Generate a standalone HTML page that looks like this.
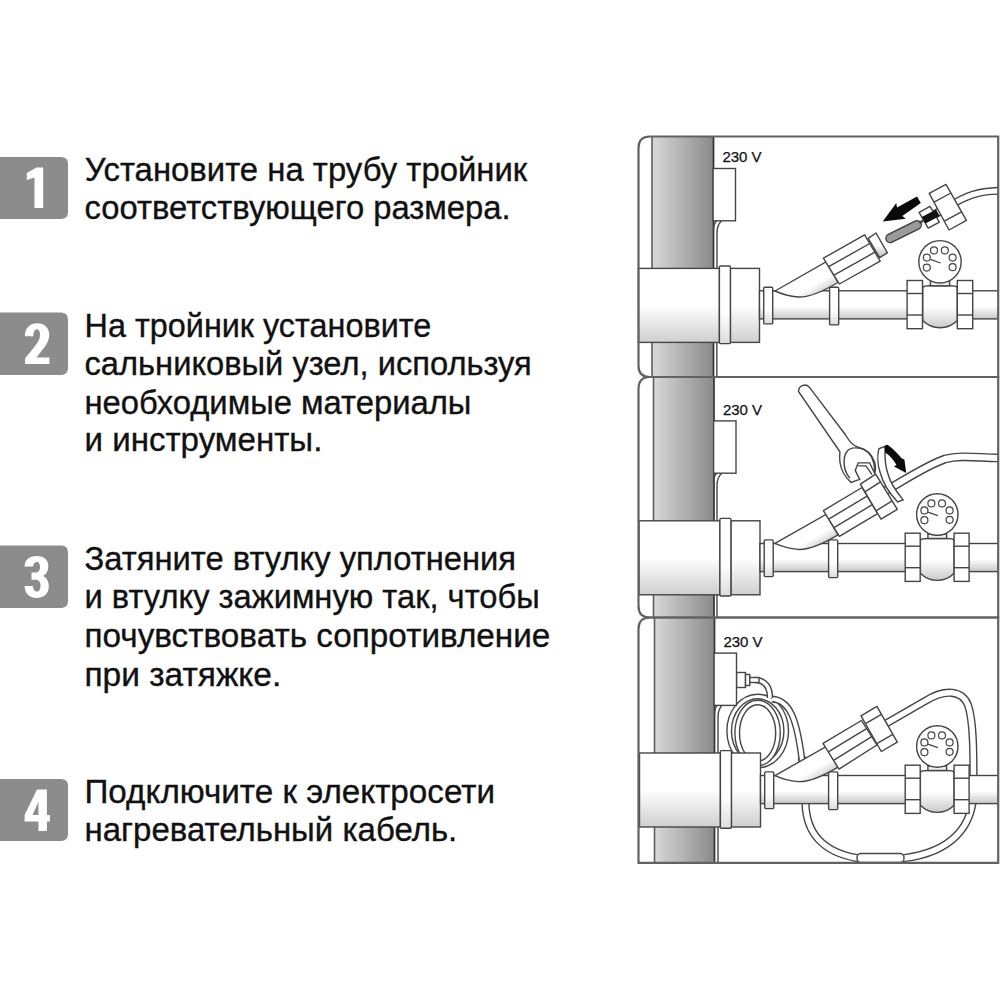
<!DOCTYPE html>
<html><head><meta charset="utf-8">
<style>
html,body{margin:0;padding:0;background:#fff;overflow:hidden;}
svg{display:block;}
.t text{font-family:"Liberation Sans",sans-serif;font-size:33px;fill:#111;stroke:#111;stroke-width:0.35px;}
.v{font-family:"Liberation Sans",sans-serif;font-size:15px;fill:#111;stroke:#111;stroke-width:0.25px;}
</style></head>
<body>
<svg width="1000" height="1000" viewBox="0 0 1000 1000">
<defs>
<clipPath id="dc"><rect x="600" y="100" width="398" height="800"/></clipPath>
<linearGradient id="vp" x1="0" y1="0" x2="1" y2="0"><stop offset="0" stop-color="#d8d8d8"/><stop offset="1" stop-color="#8a8a8a"/></linearGradient>
<linearGradient id="cg" x1="0" y1="0" x2="0" y2="1"><stop offset="0" stop-color="#fff"/><stop offset="0.5" stop-color="#fff"/><stop offset="1" stop-color="#cfcfcf"/></linearGradient>
<linearGradient id="rg" x1="0" y1="0" x2="0" y2="1"><stop offset="0" stop-color="#fff"/><stop offset="0.6" stop-color="#fff"/><stop offset="1" stop-color="#dcdcdc"/></linearGradient>
<linearGradient id="pg" x1="0" y1="0" x2="0" y2="1"><stop offset="0" stop-color="#fff"/><stop offset="0.55" stop-color="#fff"/><stop offset="1" stop-color="#c8c8c8"/></linearGradient>
<linearGradient id="vg" x1="0" y1="0" x2="0" y2="1"><stop offset="0" stop-color="#fff"/><stop offset="0.5" stop-color="#fff"/><stop offset="1" stop-color="#cacaca"/></linearGradient>
<linearGradient id="kg" x1="0" y1="0" x2="0" y2="1"><stop offset="0" stop-color="#fff"/><stop offset="0.5" stop-color="#fff"/><stop offset="1" stop-color="#bbb"/></linearGradient>
<linearGradient id="tg0" gradientUnits="userSpaceOnUse" x1="818" y1="266" x2="834" y2="293"><stop offset="0" stop-color="#fff"/><stop offset="0.45" stop-color="#fff"/><stop offset="1" stop-color="#b8b8b8"/></linearGradient><linearGradient id="tg1" gradientUnits="userSpaceOnUse" x1="818" y1="518.4" x2="834" y2="545.4"><stop offset="0" stop-color="#fff"/><stop offset="0.45" stop-color="#fff"/><stop offset="1" stop-color="#b8b8b8"/></linearGradient><linearGradient id="tg2" gradientUnits="userSpaceOnUse" x1="818" y1="750.6" x2="834" y2="777.6"><stop offset="0" stop-color="#fff"/><stop offset="0.45" stop-color="#fff"/><stop offset="1" stop-color="#b8b8b8"/></linearGradient>
</defs>
<g fill="#8c8c8c"><path d="M0 157H61Q68 157 68 164V212Q68 219 61 219H0Z"/><path d="M0 312.5H61Q68 312.5 68 319.5V368Q68 375 61 375H0Z"/><path d="M0 545.5H61Q68 545.5 68 552.5V601Q68 608 61 608H0Z"/><path d="M0 779H61Q68 779 68 786V834Q68 841 61 841H0Z"/></g>
<path fill="#fff" fill-rule="evenodd" d="M36.5 167.4H43.2V208.1H34.5V177.6L26.8 180V173ZM24.9 336.2C24.9 328 30 323.3 37.2 323.3C44.5 323.3 49.2 328 49.2 334.5C49.2 340.5 46.5 345 41.5 351L36.5 357.4H49.4V364H25V358.5L33.5 348C38 342.5 40 339 40 335C40 331.5 39 329.3 37 329.3C34.8 329.3 33.3 331.5 33.3 336.2ZM24.6 566.5C24.6 560 29.5 556 36.7 556C44 556 48.3 560 48.3 566C48.3 571 46 574.5 43 576C46.5 577.5 48.8 581 48.8 586.5C48.8 593.5 44 597.9 36.7 597.9C29 597.9 24.6 593 24.6 586H33C33 589.5 35 591.5 37 591.5C39.5 591.5 40.5 589 40.5 585.5C40.5 581.5 38.5 579.7 35 579.7H31.5V572.5H35C38.5 572.5 40 570.5 40 567C40 564 39 562 37 562C35 562 33.2 563.5 33.2 566.5ZM37 789.6H46.9V814.9H49.9V821.5H46.9V830.9H38.4V821.5H24.6V814.9ZM38.4 801.7V814.9H32.6Z"/>
<g class="t"><text x="84.8" y="180.8" transform="matrix(0.9964,0,0,1,0.31,0)">Установите на трубу тройник</text><text x="84.5" y="219.2" transform="matrix(0.9934,0,0,1,0.57,0)">соответствующего размера.</text><text x="84.5" y="337.1" transform="matrix(0.9819,0,0,1,1.56,0)">На тройник установите</text><text x="84.5" y="375.3" transform="matrix(0.9906,0,0,1,0.81,0)">сальниковый узел, используя</text><text x="84.5" y="413.6" transform="matrix(0.9935,0,0,1,0.56,0)">необходимые материалы</text><text x="84.5" y="451.4" transform="matrix(1.0030,0,0,1,-0.26,0)">и инструменты.</text><text x="84.5" y="569.6" transform="matrix(0.9923,0,0,1,0.66,0)">Затяните втулку уплотнения</text><text x="84.5" y="607.9" transform="matrix(0.9914,0,0,1,0.74,0)">и втулку зажимную так, чтобы</text><text x="84.5" y="647" transform="matrix(1.0094,0,0,1,-0.81,0)">почувствовать сопротивление</text><text x="84.5" y="685.6" transform="matrix(1.0149,0,0,1,-1.28,0)">при затяжке.</text><text x="84.5" y="803" transform="matrix(1.0069,0,0,1,-0.59,0)">Подключите к электросети</text><text x="84.5" y="841.5" transform="matrix(0.9995,0,0,1,0.04,0)">нагревательный кабель.</text></g>
<rect x="652" y="137" width="61.5" height="240" fill="url(#vp)"/>
<line x1="652" y1="137" x2="652" y2="377" stroke="#5e5e5e" stroke-width="1.6"/>
<line x1="713.5" y1="137" x2="713.5" y2="377" stroke="#333" stroke-width="1.7"/>
<rect x="653.5" y="377" width="60.5" height="240.5" fill="url(#vp)"/>
<line x1="653.5" y1="377" x2="653.5" y2="617.5" stroke="#5e5e5e" stroke-width="1.6"/>
<line x1="714" y1="377" x2="714" y2="617.5" stroke="#333" stroke-width="1.7"/>
<rect x="654.5" y="617.5" width="60.0" height="245.29999999999995" fill="url(#vp)"/>
<line x1="654.5" y1="617.5" x2="654.5" y2="862.8" stroke="#5e5e5e" stroke-width="1.6"/>
<line x1="714.5" y1="617.5" x2="714.5" y2="862.8" stroke="#333" stroke-width="1.7"/>
<g clip-path="url(#dc)"><path d="M721.5 221 Q717 225 717 233 V268.4" fill="none" stroke="#454545" stroke-width="1.4" /><path d="M716.5 221 Q713.5 224 713.5 230" fill="none" stroke="#454545" stroke-width="1.4" /><line x1="716.8" y1="342.4" x2="716.8" y2="377" stroke="#454545" stroke-width="1.4"/><path d="M950 206 C965 196 978 191 1000 190.8" fill="none" stroke="#454545" stroke-width="8" stroke-linecap="butt" stroke-linejoin="round"/><path d="M950 206 C965 196 978 191 1000 190.8" fill="none" stroke="#fff" stroke-width="5.2" stroke-linecap="butt" stroke-linejoin="round"/><path d="M928 218 L948 207" fill="none" stroke="#454545" stroke-width="8.4" stroke-linecap="butt" stroke-linejoin="round"/><path d="M928 218 L948 207" fill="none" stroke="#fff" stroke-width="5.6" stroke-linecap="butt" stroke-linejoin="round"/><polygon points="929.2,193.4 946,184.4 966.4,220.4 949,230" fill="#fff" stroke="#454545" stroke-width="1.4" stroke-linejoin="round"/><line x1="934" y1="202.2" x2="950.9" y2="193" stroke="#454545" stroke-width="1.4"/><line x1="944.2" y1="221.2" x2="961.5" y2="211.8" stroke="#454545" stroke-width="1.4"/><polygon points="919.1,212.4 930,206.4 939.4,222.2 928.2,228.1" fill="#fff" stroke="#454545" stroke-width="1.4" stroke-linejoin="round"/><polygon points="921.8,217.1 936,209.5 939.7,215.9 925.5,223.4" fill="#111"/><line x1="890.2" y1="238.3" x2="917" y2="225" stroke="#3c3c3c" stroke-width="10" stroke-linecap="round"/><line x1="890.2" y1="238.3" x2="917" y2="225" stroke="#9a9a9a" stroke-width="7.4" stroke-linecap="round"/><line x1="919.5" y1="223.2" x2="923" y2="220.6" stroke="#454545" stroke-width="2.5"/><polygon points="882.7,221.5 896.3,203 897,207.5 917,196.6 920.8,203 902.3,215.9 905.8,218.7" fill="#0a0a0a"/><polygon points="868.2,238.4 876,233 887.4,252.8 879.6,257.6" fill="url(#kg)" stroke="#454545" stroke-width="1.4" stroke-linejoin="round"/><text x="722.4" y="162.1" class="v">230 V</text><rect x="713.1" y="168.5" width="22.4" height="52.3" rx="0" fill="#fff" stroke="#454545" stroke-width="1.4" /><rect x="638.5" y="268.4" width="80.9" height="74" rx="0" fill="url(#cg)" stroke="#454545" stroke-width="1.4" /><rect x="730.4" y="268.4" width="29.1" height="74" rx="0" fill="url(#cg)" stroke="#454545" stroke-width="1.4" /><rect x="719.4" y="266" width="11" height="77.6" rx="1" fill="url(#rg)" stroke="#454545" stroke-width="1.4" /><rect x="759.5" y="290.8" width="250.5" height="28.1" rx="0" fill="url(#pg)" stroke="#454545" stroke-width="1.4" /><rect x="763.7" y="287.2" width="9" height="36.7" rx="1" fill="url(#rg)" stroke="#454545" stroke-width="1.4" /><rect x="829.6" y="287.2" width="9.1" height="37.7" rx="1" fill="url(#rg)" stroke="#454545" stroke-width="1.4" /><path d="M922.7 287.5 Q924 285.8 930 285.8 H950 Q956 285.8 957.3 287.5 V320.5 A24.4 24.4 0 0 1 922.7 320.5 Z" fill="url(#vg)" stroke="#454545" stroke-width="1.4" /><rect x="930.4" y="281.2" width="19.2" height="4.6" rx="0" fill="#eee" stroke="#454545" stroke-width="1.4" /><rect x="907.1" y="280.5" width="15.4" height="48.2" rx="0" fill="#fff" stroke="#454545" stroke-width="1.4" /><line x1="907.1" y1="293.5" x2="922.5" y2="293.5" stroke="#454545" stroke-width="1.4"/><line x1="907.1" y1="315" x2="922.5" y2="315" stroke="#454545" stroke-width="1.4"/><rect x="957.3" y="280.5" width="15.4" height="48.2" rx="0" fill="#fff" stroke="#454545" stroke-width="1.4" /><line x1="957.3" y1="293.5" x2="972.7" y2="293.5" stroke="#454545" stroke-width="1.4"/><line x1="957.3" y1="315" x2="972.7" y2="315" stroke="#454545" stroke-width="1.4"/><circle cx="940" cy="261.8" r="21.2" fill="#fff" stroke="#454545" stroke-width="1.4"/><circle cx="926.8" cy="257.6" r="3.5" fill="#fff" stroke="#454545" stroke-width="1.2"/><circle cx="934" cy="250.4" r="3.5" fill="#fff" stroke="#454545" stroke-width="1.2"/><circle cx="944.8" cy="250.4" r="3.5" fill="#fff" stroke="#454545" stroke-width="1.2"/><circle cx="952.6" cy="257.6" r="3.5" fill="#fff" stroke="#454545" stroke-width="1.2"/><circle cx="952.6" cy="267.2" r="3.5" fill="#fff" stroke="#454545" stroke-width="1.2"/><circle cx="926.8" cy="267.6" r="3.5" fill="#fff" stroke="#454545" stroke-width="1.2"/><line x1="930.4" y1="259.4" x2="940.6" y2="263" stroke="#454545" stroke-width="1.3"/><path d="M775 291 L826 262 L838 282.5 Q812 298 798 297 Q786 296 775 291 Z" fill="url(#tg0)" stroke="#454545" stroke-width="1.4" /><polygon points="823.4,258.2 864.6,234.8 880.2,261.2 839.4,284" fill="#fff" stroke="#454545" stroke-width="1.4" stroke-linejoin="round"/><line x1="828.7" y1="266.7" x2="869.7" y2="243.5" stroke="#454545" stroke-width="1.4"/><line x1="834" y1="275.2" x2="874.9" y2="252.2" stroke="#454545" stroke-width="1.4"/><text x="722.9" y="414.5" class="v">230 V</text><rect x="713.6" y="420.9" width="22.4" height="52.3" rx="0" fill="#fff" stroke="#454545" stroke-width="1.4" /><rect x="639" y="520.8" width="80.9" height="74" rx="0" fill="url(#cg)" stroke="#454545" stroke-width="1.4" /><rect x="730.9" y="520.8" width="29.1" height="74" rx="0" fill="url(#cg)" stroke="#454545" stroke-width="1.4" /><rect x="719.9" y="518.4" width="11" height="77.6" rx="1" fill="url(#rg)" stroke="#454545" stroke-width="1.4" /><rect x="760" y="543.5" width="250" height="28.1" rx="0" fill="url(#pg)" stroke="#454545" stroke-width="1.4" /><rect x="764.2" y="539.9" width="9" height="36.7" rx="1" fill="url(#rg)" stroke="#454545" stroke-width="1.4" /><rect x="828.6" y="539.9" width="9.1" height="37.7" rx="1" fill="url(#rg)" stroke="#454545" stroke-width="1.4" /><path d="M920.4 540.2 Q921.7 538.5 927.5 538.5 H947 Q952.9 538.5 954.1 540.2 V573.2 A23.8 24.4 0 0 1 920.4 573.2 Z" fill="url(#vg)" stroke="#454545" stroke-width="1.4" /><rect x="927.9" y="533.9" width="18.7" height="4.6" rx="0" fill="#eee" stroke="#454545" stroke-width="1.4" /><rect x="905.2" y="533.2" width="15" height="48.2" rx="0" fill="#fff" stroke="#454545" stroke-width="1.4" /><line x1="905.2" y1="546.2" x2="920.2" y2="546.2" stroke="#454545" stroke-width="1.4"/><line x1="905.2" y1="567.7" x2="920.2" y2="567.7" stroke="#454545" stroke-width="1.4"/><rect x="954.1" y="533.2" width="15" height="48.2" rx="0" fill="#fff" stroke="#454545" stroke-width="1.4" /><line x1="954.1" y1="546.2" x2="969.2" y2="546.2" stroke="#454545" stroke-width="1.4"/><line x1="954.1" y1="567.7" x2="969.2" y2="567.7" stroke="#454545" stroke-width="1.4"/><circle cx="937.3" cy="514.5" r="20.7" fill="#fff" stroke="#454545" stroke-width="1.4"/><circle cx="924.4" cy="510.4" r="3.5" fill="#fff" stroke="#454545" stroke-width="1.2"/><circle cx="931.4" cy="503.4" r="3.5" fill="#fff" stroke="#454545" stroke-width="1.2"/><circle cx="942" cy="503.4" r="3.5" fill="#fff" stroke="#454545" stroke-width="1.2"/><circle cx="949.6" cy="510.4" r="3.5" fill="#fff" stroke="#454545" stroke-width="1.2"/><circle cx="949.6" cy="519.8" r="3.5" fill="#fff" stroke="#454545" stroke-width="1.2"/><circle cx="924.4" cy="520.2" r="3.5" fill="#fff" stroke="#454545" stroke-width="1.2"/><line x1="927.9" y1="512.2" x2="937.9" y2="515.7" stroke="#454545" stroke-width="1.3"/><path d="M775 543.4 L826 514.4 L838 534.9 Q812 550.4 798 549.4 Q786 548.4 775 543.4 Z" fill="url(#tg1)" stroke="#454545" stroke-width="1.4" /><path d="M721.5 473.4 Q717 477.4 717 485.4 V520.8" fill="none" stroke="#454545" stroke-width="1.4" /><path d="M716.5 473.4 Q713.5 476.4 713.5 482.4" fill="none" stroke="#454545" stroke-width="1.4" /><line x1="717" y1="595" x2="717" y2="617.5" stroke="#454545" stroke-width="1.4"/><path d="M880 494 C905 480 925 466 945 459 C960 455 975 457.5 1000 458" fill="none" stroke="#454545" stroke-width="8.8" stroke-linecap="butt" stroke-linejoin="round"/><path d="M880 494 C905 480 925 466 945 459 C960 455 975 457.5 1000 458" fill="none" stroke="#fff" stroke-width="6" stroke-linecap="butt" stroke-linejoin="round"/><polygon points="823.4,510.6 862,487.5 877.6,513.6 839.4,536.4" fill="#fff" stroke="#454545" stroke-width="1.4" stroke-linejoin="round"/><line x1="828.7" y1="519.1" x2="867.1" y2="496.1" stroke="#454545" stroke-width="1.4"/><line x1="834" y1="527.6" x2="872.3" y2="504.7" stroke="#454545" stroke-width="1.4"/><polygon points="860.4,484.1 875.7,474.2 897.3,509.3 881,519.2" fill="#fff" stroke="#454545" stroke-width="1.4" stroke-linejoin="round"/><line x1="864.9" y1="491.8" x2="880.5" y2="481.9" stroke="#454545" stroke-width="1.4"/><line x1="876.1" y1="510.8" x2="892.1" y2="500.9" stroke="#454545" stroke-width="1.4"/><path d="M878.8 448.8 C877 456 878 466 880 472 C883 484 890 494 897.7 502 L903.1 499.9 C895 490 890 482 888 474 C885 466 884.5 458 885.1 446.3 Z" fill="#fff" stroke="#454545" stroke-width="1.4" /><path d="M884.6 446.6 Q886 444.3 888 444.9 C893.5 449 898.5 454 901.8 458.6 L904.4 459.6 L906.2 472.9 L894 466.4 L896.4 464.8 C893.5 460 890 455.5 885.2 452.8 Z" fill="#0a0a0a"/><path d="M798.5 391.5 A6.2 6.2 0 0 1 809.3 387.2 L845.6 435 C849 441 853 446 858.2 447.3 C866 449 872 455 874.5 462 C876 467 875.8 470 874.7 473.4 L869.6 462.9 L858.2 462.9 L855.2 470.4 L859.7 479.4 L851 482.4 C846 478 841 470 839.9 462 C839.5 457 839.7 454 839.9 451.8 Z" fill="#fff" stroke="#454545" stroke-width="1.4" /><path d="M849.8 478.2 C845.5 473 844 468 844.1 462 C844 452 849 447.9 854.5 447.9 C861 447.6 867.5 450.5 871 456 C873.5 460 874.5 466 874.6 471" fill="none" stroke="#454545" stroke-width="1.4" /><path d="M858.2 465.9 H866 L872 474.6" fill="none" stroke="#454545" stroke-width="1.4" /><path d="M722 705.6 Q718 709.6 718 717.6 V753" fill="none" stroke="#454545" stroke-width="1.4" /><path d="M717 705.6 Q714.5 708.6 714.5 714.6" fill="none" stroke="#454545" stroke-width="1.4" /><line x1="718" y1="826" x2="718" y2="862.8" stroke="#454545" stroke-width="1.4"/><path d="M887 723 L926 700.5 C945 689 962 690 968 705 C974 722 973.5 760 973.5 790 C973.5 828 950 852 905 858 H857 C822 852 806 832 805.5 803 C805 780 803 765 801.8 757" fill="none" stroke="#454545" stroke-width="8.2" stroke-linecap="butt" stroke-linejoin="round"/><path d="M887 723 L926 700.5 C945 689 962 690 968 705 C974 722 973.5 760 973.5 790 C973.5 828 950 852 905 858 H857 C822 852 806 832 805.5 803 C805 780 803 765 801.8 757" fill="none" stroke="#fff" stroke-width="5.4" stroke-linecap="butt" stroke-linejoin="round"/><ellipse cx="757.7" cy="731" rx="28.5" ry="34.5" fill="none" stroke="#454545" stroke-width="6"/><ellipse cx="757.7" cy="731" rx="28.5" ry="34.5" fill="none" stroke="#fff" stroke-width="3.2"/><ellipse cx="757.6" cy="733" rx="20.4" ry="30.5" fill="none" stroke="#454545" stroke-width="6"/><ellipse cx="757.6" cy="733" rx="20.4" ry="30.5" fill="none" stroke="#fff" stroke-width="3.2"/><path d="M772 699 C790 700 797 720 802 760" fill="none" stroke="#454545" stroke-width="6.9" stroke-linecap="butt" stroke-linejoin="round"/><path d="M772 699 C790 700 797 720 802 760" fill="none" stroke="#fff" stroke-width="4.1" stroke-linecap="butt" stroke-linejoin="round"/><path d="M755 680 C766 680 770 688 770 698" fill="none" stroke="#454545" stroke-width="6.4" stroke-linecap="butt" stroke-linejoin="round"/><path d="M755 680 C766 680 770 688 770 698" fill="none" stroke="#fff" stroke-width="3.6" stroke-linecap="butt" stroke-linejoin="round"/><rect x="736.5" y="672.5" width="9" height="15" rx="0" fill="#fff" stroke="#454545" stroke-width="1.4" /><rect x="745.5" y="674.5" width="4.3" height="11" rx="0" fill="#fff" stroke="#454545" stroke-width="1.4" /><rect x="749.8" y="677.5" width="9.2" height="5" rx="0" fill="#fff" stroke="#454545" stroke-width="1.4" /><text x="723.4" y="646.7" class="v">230 V</text><rect x="714.1" y="653.1" width="22.4" height="52.3" rx="0" fill="#fff" stroke="#454545" stroke-width="1.4" /><rect x="639.5" y="753" width="80.9" height="74" rx="0" fill="url(#cg)" stroke="#454545" stroke-width="1.4" /><rect x="731.4" y="753" width="29.1" height="74" rx="0" fill="url(#cg)" stroke="#454545" stroke-width="1.4" /><rect x="720.4" y="750.6" width="11" height="77.6" rx="1" fill="url(#rg)" stroke="#454545" stroke-width="1.4" /><rect x="760.5" y="775.5" width="249.5" height="28.1" rx="0" fill="url(#pg)" stroke="#454545" stroke-width="1.4" /><rect x="764.7" y="771.9" width="9" height="36.7" rx="1" fill="url(#rg)" stroke="#454545" stroke-width="1.4" /><rect x="828.6" y="771.9" width="9.1" height="37.7" rx="1" fill="url(#rg)" stroke="#454545" stroke-width="1.4" /><path d="M920.4 772.2 Q921.7 770.5 927.5 770.5 H947 Q952.9 770.5 954.1 772.2 V805.2 A23.8 24.4 0 0 1 920.4 805.2 Z" fill="url(#vg)" stroke="#454545" stroke-width="1.4" /><rect x="927.9" y="765.9" width="18.7" height="4.6" rx="0" fill="#eee" stroke="#454545" stroke-width="1.4" /><rect x="905.2" y="765.2" width="15" height="48.2" rx="0" fill="#fff" stroke="#454545" stroke-width="1.4" /><line x1="905.2" y1="778.2" x2="920.2" y2="778.2" stroke="#454545" stroke-width="1.4"/><line x1="905.2" y1="799.7" x2="920.2" y2="799.7" stroke="#454545" stroke-width="1.4"/><rect x="954.1" y="765.2" width="15" height="48.2" rx="0" fill="#fff" stroke="#454545" stroke-width="1.4" /><line x1="954.1" y1="778.2" x2="969.2" y2="778.2" stroke="#454545" stroke-width="1.4"/><line x1="954.1" y1="799.7" x2="969.2" y2="799.7" stroke="#454545" stroke-width="1.4"/><circle cx="937.3" cy="746.5" r="20.7" fill="#fff" stroke="#454545" stroke-width="1.4"/><circle cx="924.4" cy="742.4" r="3.5" fill="#fff" stroke="#454545" stroke-width="1.2"/><circle cx="931.4" cy="735.4" r="3.5" fill="#fff" stroke="#454545" stroke-width="1.2"/><circle cx="942" cy="735.4" r="3.5" fill="#fff" stroke="#454545" stroke-width="1.2"/><circle cx="949.6" cy="742.4" r="3.5" fill="#fff" stroke="#454545" stroke-width="1.2"/><circle cx="949.6" cy="751.8" r="3.5" fill="#fff" stroke="#454545" stroke-width="1.2"/><circle cx="924.4" cy="752.2" r="3.5" fill="#fff" stroke="#454545" stroke-width="1.2"/><line x1="927.9" y1="744.2" x2="937.9" y2="747.7" stroke="#454545" stroke-width="1.3"/><path d="M775 775.6 L826 746.6 L838 767.1 Q812 782.6 798 781.6 Q786 780.6 775 775.6 Z" fill="url(#tg2)" stroke="#454545" stroke-width="1.4" /><polygon points="823,743.3 861.5,720.5 876.9,745 839,769.1" fill="#fff" stroke="#454545" stroke-width="1.4" stroke-linejoin="round"/><line x1="828.3" y1="751.8" x2="866.6" y2="728.6" stroke="#454545" stroke-width="1.4"/><line x1="833.6" y1="760.3" x2="871.7" y2="736.7" stroke="#454545" stroke-width="1.4"/><polygon points="861,715.8 876.9,706.4 897.3,742.2 881.3,751.5" fill="#fff" stroke="#454545" stroke-width="1.4" stroke-linejoin="round"/><line x1="865.5" y1="723.7" x2="881.4" y2="714.3" stroke="#454545" stroke-width="1.4"/><line x1="876.8" y1="743.6" x2="892.8" y2="734.3" stroke="#454545" stroke-width="1.4"/><rect x="857" y="853.5" width="47" height="9" rx="4" fill="#fff" stroke="#454545" stroke-width="1.4"/></g>
<g fill="none" stroke="#626262" stroke-width="2.2"><path d="M650 136.5H998.2V377H650Q638.5 377 638.5 366V148Q638.5 136.5 650 136.5Z"/><path d="M650 377H998.2V617.5H650Q638.5 617.5 638.5 606V389Q638.5 377 650 377Z"/><path d="M650 617.5H998.2V862.8H638.5V629Q638.5 617.5 650 617.5Z"/></g>
</svg>
</body></html>
